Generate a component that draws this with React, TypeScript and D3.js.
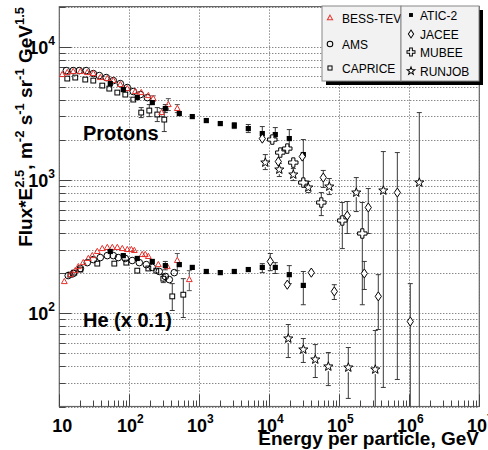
import React from 'react';
import * as d3 from 'd3';

const W = 488, H = 450;

// ---------- Protons ----------
const bessP_E = [11.0, 13.0, 15.8, 20.0, 25.1, 30.6, 38.5, 48.5, 59.1, 74.4, 93.6, 122, 148, 187, 220, 290, 361, 485];
const bessP_F = [6180, 6400, 6510, 6510, 6400, 6290, 5870, 5770, 5570, 5200, 4850, 4610, 4530, 4300, 4080, 3210, 3680, 3440];
const bessP_lo = [null, null, null, null, null, null, null, null, null, null, null, null, null, null, 3900, 2990, 3320, 3206];
const bessP_hi = [null, null, null, null, null, null, null, null, null, null, null, null, null, null, 4280, 3440, 4080, 3680];

const amsP_E = [12.6, 15.8, 19.3, 24.3, 30.6, 37.3, 46.9, 59.1, 74.4, 93.6, 114, 144, 181];
const amsP_F = [6620, 6620, 6620, 6620, 6290, 6075, 5870, 5570, 5290, 4940, 4610, 4375, 4150];

const capP_E = [13.0, 16.9, 23.5, 30.6, 41.1, 51.8, 67.4, 87.7, 114, 148, 193, 251, 316];
const capP_F = [5770, 5870, 5670, 5570, 5110, 4850, 4530, 4375, 4013, 3206, 3320, 3100, 2840];
const capP_lo = [null, null, null, null, null, null, null, null, null, 2940, 2990, 2745, 2310];
const capP_hi = [null, null, null, null, null, null, null, null, null, 3495, 3680, 3495, 3436];

const aticP_E = [53.5, 82.1, 130, 213, 327, 518, 794, 1259, 1995, 3162, 5012, 7943, 12180, 19300, 30620];
const aticP_F = [5290, 4770, 4154, 3811, 3436, 3151, 2992, 2793, 2652, 2560, 2432, 2231, 2193, 2046, 1552];
const aticP_lo = [null, null, null, null, 3206, null, null, null, null, 2432, 2270, 2046, 1977, 1722, 991];
const aticP_hi = [null, null, null, null, 3681, null, null, null, null, 2698, 2610, 2518, 2475, 2391, 2012];

const jaceeP_E = [7943, 13450, 29580, 59040, 130000, 259500, 674500];
const jaceeP_F = [2046, 1376, 1500, 1043, 541, 622, 805];
const jaceeP_lo = [null, null, null, 880, 397, 397, 31.9];
const jaceeP_hi = [null, null, null, 1180, 690, 863, 1607];

const mubeeP_E = [11040, 14360, 18070, 22030, 30620, 55340, 110400, 213200];
const mubeeP_F = [2012, 1607, 1722, 1352, 957, 678, 497, 397];
const mubeeP_lo = [null, null, null, null, null, 541, 306, 116];
const mubeeP_hi = [null, null, null, null, null, 805, 678, 678];

const runjobP_E = [8770, 13900, 22030, 36060, 71970, 174800, 425400, 1389000];
const runjobP_F = [1352, 1198, 1099, 878, 893, 805, 834, 957];
const runjobP_lo = [1198, 1062, 991, 805, 778, 580, 27.8, 10];
const runjobP_hi = [1552, 1329, 1219, 974, 1026, 1043, 1635, 3206];

// ---------- Helium (x 0.1) ----------
const bessHe_E = [11.8, 14.4, 16.9, 18.7, 22.0, 26.0, 29.6, 34.9, 41.1, 48.5, 57.2, 67.4, 79.4, 93.6, 107, 118, 153, 169, 187, 260, 349, 485, 720];
const bessHe_F = [173, 195, 209, 224, 240, 258, 271, 291, 306, 312, 312, 312, 306, 301, 301, 296, 276, 276, 267, 232, 224, 249, 179];
const bessHe_lo = [null, null, null, null, null, null, null, null, null, null, null, null, null, null, null, null, null, null, null, null, null, 209, 148];
const bessHe_hi = [null, null, null, null, null, null, null, null, null, null, null, null, null, null, null, null, null, null, null, null, null, 281, 209];

const amsHe_E = [13.4, 15.8, 20.0, 25.1, 30.6, 38.5, 48.5, 59.1, 69.7, 87.7, 110, 139, 175, 213, 268, 327, 373, 439];
const amsHe_F = [192, 199, 217, 240, 253, 262, 271, 271, 262, 258, 249, 240, 232, 221, 206, 189, 179, 202];

const capHe_E = [14.4, 16.4, 20.0, 34.9, 61.1, 90.6, 130, 187, 243, 306, 411, 591];
const capHe_F = [195, 202, 213, 236, 236, 240, 209, 217, 209, 182, 134, 138];
const capHe_lo = [null, null, null, null, null, null, null, null, null, 170, 105, 93];
const capHe_hi = [null, null, null, null, null, null, null, null, null, 196, 167, 182];

const aticHe_E = [53.5, 82.1, 130, 213, 327, 518, 794, 1259, 1995, 3162, 5012, 7943, 12180, 19300, 30620];
const aticHe_F = [291, 271, 258, 245, 228, 232, 221, 206, 202, 206, 213, 221, 221, 195, 162];
const aticHe_lo = [null, null, null, null, 212, null, null, null, null, null, null, 202, 199, 167, 116];
const aticHe_hi = [null, null, null, null, 245, null, null, null, null, null, null, 236, 240, 228, 206];

const jaceeHe_E = [10330, 18070, 39810, 84860, 227600, 360600, 1033000];
const jaceeHe_F = [245, 164, 202, 146, 199, 134, 86.8];
const jaceeHe_lo = [209, null, null, 127, 151, 75.6, 10];
const jaceeHe_hi = [281, null, null, 164, 245, 195, 167];

const runjobHe_E = [18670, 30620, 45400, 69690, 134500, 326600];
const runjobHe_F = [64.7, 53.5, 45.0, 39.9, 39.2, 37.9];
const runjobHe_lo = [46.6, 42.8, 33.0, 28.7, 23.0, 10];
const runjobHe_hi = [82.4, 64.7, 58.3, 50.8, 55.4, 74.3];

// ---------- Axes ----------
const xDecades = [1, 2, 3, 4, 5, 6, 7];
const yDecades = [2, 3, 4];

const legend1 = [
  { label: 'BESS-TEV', marker: 'tri' },
  { label: 'AMS', marker: 'circle' },
  { label: 'CAPRICE', marker: 'osq' },
];
const legend2 = [
  { label: 'ATIC-2', marker: 'fsq' },
  { label: 'JACEE', marker: 'diamond' },
  { label: 'MUBEE', marker: 'cross' },
  { label: 'RUNJOB', marker: 'star' },
];

const RED = '#e5322d';
const FONT = '"Liberation Sans", Arial, Helvetica, sans-serif';

const PL = 59.3, PR = 479.3, PT = 6.6, PB = 406.5;
const x = d3.scaleLog().domain([10, 1e7]).range([PL, PR]);
const y = d3.scaleLog().domain([20, 2e4]).range([PB, PT]);

const halfH: Record<string, number> = { tri: 3, circle: 3.3, osq: 2.4, fsq: 2.6, diamond: 4.6, cross: 4.6, star: 4.6 };

function starPath(R: number, r: number) {
  const pts: string[] = [];
  for (let i = 0; i < 10; i++) {
    const a = -Math.PI / 2 + (i * Math.PI) / 5;
    const rad = i % 2 === 0 ? R : r;
    pts.push(`${(rad * Math.cos(a)).toFixed(2)},${(rad * Math.sin(a)).toFixed(2)}`);
  }
  return 'M' + pts.join('L') + 'Z';
}
function crossPath(a: number, b: number) {
  return `M${-b},${-a}L${b},${-a}L${b},${-b}L${a},${-b}L${a},${b}L${b},${b}L${b},${a}L${-b},${a}L${-b},${b}L${-a},${b}L${-a},${-b}L${-b},${-b}Z`;
}

function Marker({ type, cx, cy, k = 1 }: { type: string; cx: number; cy: number; k?: number }) {
  const t = `translate(${cx},${cy}) scale(${k})`;
  const sw = 1 / k;
  switch (type) {
    case 'tri':
      return <path transform={t} d="M0,-3.2L2.9,2L-2.9,2Z" fill="none" stroke={RED} strokeWidth={sw} />;
    case 'circle':
      return <circle transform={t} r={3.3} fill="none" stroke="#000" strokeWidth={sw} />;
    case 'osq':
      return <rect transform={t} x={-2.4} y={-2.4} width={4.8} height={4.8} fill="none" stroke="#000" strokeWidth={sw} />;
    case 'fsq':
      return <rect transform={t} x={-2.6} y={-2.6} width={5.2} height={5.2} fill="#000" />;
    case 'diamond':
      return <path transform={t} d="M0,-4.6L3.1,0L0,4.6L-3.1,0Z" fill="#fff" stroke="#000" strokeWidth={sw} />;
    case 'cross':
      return <path transform={t} d={crossPath(4.7, 1.6)} fill="#fff" stroke="#000" strokeWidth={sw} />;
    case 'star':
      return <path transform={t} d={starPath(4.8, 2.0)} fill="#fff" stroke="#000" strokeWidth={sw} />;
  }
  return null;
}

type Series = { marker: string; E: number[]; F: number[]; lo?: (number | null)[]; hi?: (number | null)[] };

const seriesList: Series[] = [
  { marker: 'osq', E: capP_E, F: capP_F, lo: capP_lo, hi: capP_hi },
  { marker: 'circle', E: amsP_E, F: amsP_F },
  { marker: 'tri', E: bessP_E, F: bessP_F, lo: bessP_lo, hi: bessP_hi },
  { marker: 'fsq', E: aticP_E, F: aticP_F, lo: aticP_lo, hi: aticP_hi },
  { marker: 'osq', E: capHe_E, F: capHe_F, lo: capHe_lo, hi: capHe_hi },
  { marker: 'circle', E: amsHe_E, F: amsHe_F },
  { marker: 'tri', E: bessHe_E, F: bessHe_F, lo: bessHe_lo, hi: bessHe_hi },
  { marker: 'fsq', E: aticHe_E, F: aticHe_F, lo: aticHe_lo, hi: aticHe_hi },
  { marker: 'diamond', E: jaceeP_E, F: jaceeP_F, lo: jaceeP_lo, hi: jaceeP_hi },
  { marker: 'cross', E: mubeeP_E, F: mubeeP_F, lo: mubeeP_lo, hi: mubeeP_hi },
  { marker: 'star', E: runjobP_E, F: runjobP_F, lo: runjobP_lo, hi: runjobP_hi },
  { marker: 'diamond', E: jaceeHe_E, F: jaceeHe_F, lo: jaceeHe_lo, hi: jaceeHe_hi },
  { marker: 'star', E: runjobHe_E, F: runjobHe_F, lo: runjobHe_lo, hi: runjobHe_hi },
];

function ErrBar({ s, i }: { s: Series; i: number }) {
  const lo = s.lo ? s.lo[i] : null;
  const hi = s.hi ? s.hi[i] : null;
  if (lo == null || hi == null) return null;
  const cx = x(s.E[i]);
  const cy = y(s.F[i]);
  const h = halfH[s.marker];
  const yl = y(lo);
  const yh = y(hi);
  const col = s.marker === 'tri' ? '#555' : '#3a3a3a';
  return (
    <g stroke={col} strokeWidth={1}>
      {yh < cy - h && <line x1={cx} x2={cx} y1={yh} y2={cy - h} />}
      {yl > cy + h && <line x1={cx} x2={cx} y1={cy + h} y2={yl} />}
      <line x1={cx - 2.5} x2={cx + 2.5} y1={yh} y2={yh} />
      <line x1={cx - 2.5} x2={cx + 2.5} y1={yl} y2={yl} />
    </g>
  );
}

export default function App() {
  const minorY: number[] = [];
  for (let k = 1; k <= 4; k++) for (let m = 1; m <= 9; m++) {
    const v = m * Math.pow(10, k);
    if (v >= 20 && v <= 2e4) minorY.push(v);
  }
  const minorX: number[] = [];
  for (let k = 1; k <= 6; k++) for (let m = 2; m <= 9; m++) minorX.push(m * Math.pow(10, k));

  return (
    <svg width={W} height={H} style={{ position: 'absolute', left: 0, top: 0, background: '#fff' }} fontFamily={FONT}>
      <defs>
        <clipPath id="plot"><rect x={PL} y={PT} width={PR - PL} height={PB - PT} /></clipPath>
        <clipPath id="leg1"><rect x={322} y={6} width={79} height={75} /></clipPath>
      </defs>
      <rect x={0} y={0} width={W} height={H} fill="#fff" />
      {/* grid */}
      <g stroke="#555" strokeWidth={1} strokeDasharray="1,2">
        {minorY.map((v) => (
          <line key={'gy' + v} x1={PL} x2={PR} y1={Math.round(y(v)) + 0.5} y2={Math.round(y(v)) + 0.5} />
        ))}
        {xDecades.map((d) => (
          <line key={'gx' + d} x1={Math.round(x(Math.pow(10, d))) + 0.5} x2={Math.round(x(Math.pow(10, d))) + 0.5} y1={PT} y2={PB} />
        ))}
      </g>
      {/* frame */}
      <rect x={PL} y={PT} width={PR - PL} height={PB - PT} fill="none" stroke="#666" strokeWidth={1.2} />
      {/* y ticks */}
      <g stroke="#444" strokeWidth={1}>
        {minorY.map((v) => {
          const major = Math.abs(Math.log10(v) - Math.round(Math.log10(v))) < 1e-9;
          const yy = Math.round(y(v)) + 0.5;
          return <line key={'ty' + v} x1={PL} x2={PL + (major ? 12 : 6)} y1={yy} y2={yy} />;
        })}
        {minorX.map((v) => {
          const xx = Math.round(x(v)) + 0.5;
          return <line key={'tx' + v} x1={xx} x2={xx} y1={PB} y2={PB - 6} />;
        })}
        {xDecades.map((d) => {
          const xx = Math.round(x(Math.pow(10, d))) + 0.5;
          return <line key={'tX' + d} x1={xx} x2={xx} y1={PB} y2={PB - 12} />;
        })}
      </g>
      {/* data */}
      <g clipPath="url(#plot)">
        {seriesList.map((s, si) => (
          <g key={'e' + si}>
            {s.E.map((_, i) => <ErrBar key={i} s={s} i={i} />)}
          </g>
        ))}
        {seriesList.map((s, si) => (
          <g key={'m' + si}>
            {s.E.map((e, i) => <Marker key={i} type={s.marker} cx={x(e)} cy={y(s.F[i])} />)}
          </g>
        ))}
      </g>
      {/* annotations */}
      <text x={83} y={140} fontSize={20} fontWeight="bold">Protons</text>
      <text x={83} y={327} fontSize={20} fontWeight="bold">He (x 0.1)</text>
      {/* x tick labels */}
      <g fontSize={18} fontWeight="bold" textAnchor="middle">
        {xDecades.map((d) => (
          <text key={'lx' + d} x={x(Math.pow(10, d)) + (d === 1 ? 3 : 1)} y={432}>
            10{d > 1 && <tspan fontSize={12} dy={-9}>{d}</tspan>}
          </text>
        ))}
      </g>
      {/* y tick labels */}
      <g fontSize={18} fontWeight="bold" textAnchor="end">
        {yDecades.map((d) => (
          <text key={'ly' + d} x={55} y={y(Math.pow(10, d)) + 7}>
            10<tspan fontSize={12} dy={-9}>{d}</tspan>
          </text>
        ))}
      </g>
      {/* axis titles */}
      <text x={479} y={445} fontSize={19} fontWeight="bold" textAnchor="end">Energy per particle, GeV</text>
      <text transform="translate(32,7) rotate(-90)" fontSize={19} fontWeight="bold" textAnchor="end">
        Flux*E<tspan fontSize={13} dy={-8}>2.5</tspan><tspan dy={8}>, m</tspan>
        <tspan fontSize={13} dy={-8}>-2</tspan><tspan dy={8}> s</tspan>
        <tspan fontSize={13} dy={-8}>-1</tspan><tspan dy={8}> sr</tspan>
        <tspan fontSize={13} dy={-8}>-1</tspan><tspan dy={8}> GeV</tspan>
        <tspan fontSize={13} dy={-8}>1.5</tspan>
      </text>
      {/* legends */}
      <rect x={326} y={10} width={79} height={75} fill="#000" />
      <rect x={405} y={10} width={78} height={75} fill="#000" />
      <rect x={322} y={6} width={79} height={75} fill="#f2f2f2" stroke="#888" strokeWidth={1} />
      <g clipPath="url(#leg1)" fontSize={12}>
        {legend1.map((l, i) => {
          const yy = [18, 44, 68][i];
          return (
            <g key={l.label}>
              <Marker type={l.marker} cx={330} cy={yy} k={l.marker === 'tri' ? 0.9 : 0.85} />
              <text x={342} y={yy + 4.5}>{l.label}</text>
            </g>
          );
        })}
      </g>
      <rect x={401} y={6} width={78} height={75} fill="#f2f2f2" stroke="#888" strokeWidth={1} />
      <g fontSize={12}>
        {legend2.map((l, i) => {
          const yy = [15, 34, 52, 71][i];
          return (
            <g key={l.label}>
              <Marker type={l.marker} cx={411} cy={yy} k={l.marker === 'fsq' ? 0.75 : 0.85} />
              <text x={420} y={yy + 4.5}>{l.label}</text>
            </g>
          );
        })}
      </g>
    </svg>
  );
}
